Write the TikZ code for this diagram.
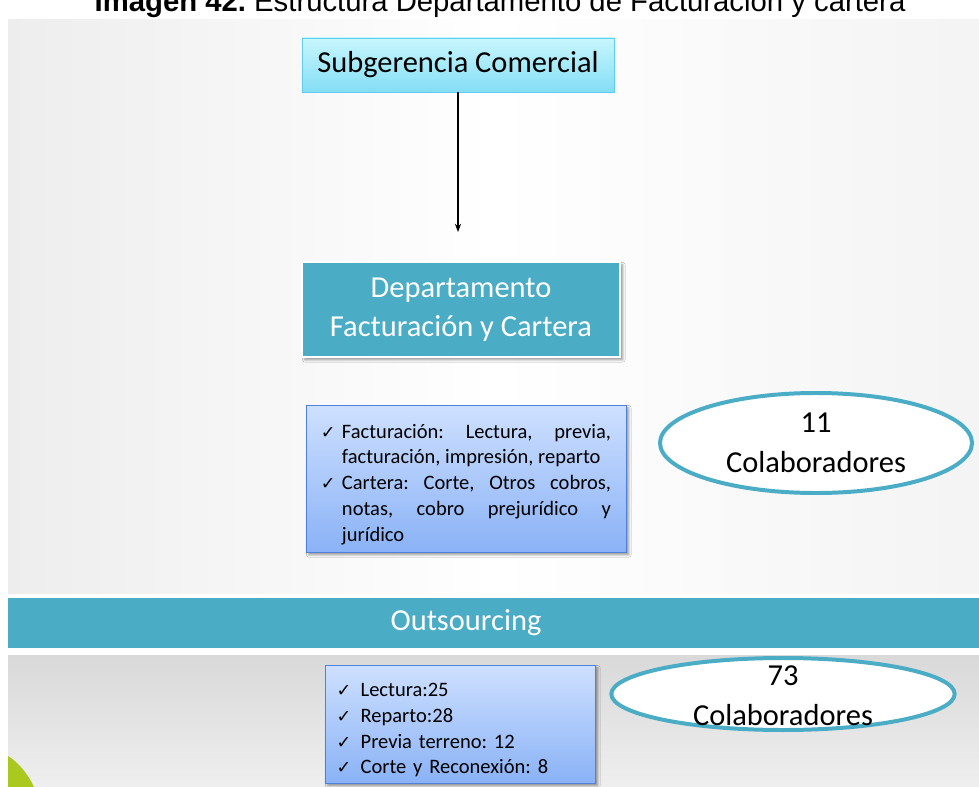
\documentclass[tikz,border=0pt]{standalone}
\usepackage{fontspec}
\setmainfont{Carlito}
\newfontfamily\titlefont{Liberation Sans}
\newfontfamily\symfont{DejaVu Sans}
\usepackage{xcolor}
\definecolor{accent}{RGB}{ 75, 172, 198}
\definecolor{skytop}{RGB}{200, 246, 253}
\definecolor{skybot}{RGB}{132, 222, 245}
\definecolor{skyline}{RGB}{ 95, 205, 235}
\definecolor{bluetop}{RGB}{206, 224, 255}
\definecolor{bluebot}{RGB}{138, 178, 246}
\definecolor{blueline}{RGB}{ 79, 129, 217}
\definecolor{lime}{RGB}{170, 200,  30}
\usepackage{tikz}
\usetikzlibrary{
  shapes.geometric, arrows.meta, positioning, shadows.blur
}
\frenchspacing
\newcommand{\tick}{{\symfont\fontsize{15}{15}\selectfont ✓}}
\newcommand{\tickitem}[2][0.63cm]{\par\hyphenpenalty=10000\hangindent=#1\hangafter=1\noindent\makebox[#1][l]{\tick}#2\par}
\tikzset{
  subbox/.style={draw=skyline, line width=0.8pt, top color=skytop, bottom color=skybot,
    minimum width=9.36cm, minimum height=1.62cm, font=\fontsize{26}{30}\selectfont},
  deptbox/.style={draw=white, line width=2.4pt, fill=accent, text=white,
    minimum width=9.54cm, minimum height=2.85cm, align=center,
    font=\fontsize{26}{33}\selectfont, blur shadow={shadow blur steps=6}},
  taskbox/.style={draw=blueline, line width=0.8pt, top color=bluetop, bottom color=bluebot,
    font=\fontsize{17.5}{22}\selectfont, blur shadow={shadow blur steps=6}},
  countell/.style={ellipse, draw=accent, line width=3.4pt, fill=white, inner sep=0pt},
  counttext/.style={align=center, font=\fontsize{26}{34}\selectfont},
  bandbar/.style={fill=accent, minimum width=29.13cm, minimum height=1.5cm},
  bandtext/.style={text=white, font=\fontsize{26}{30}\selectfont},
  flowarrow/.style={->, >=Stealth, line width=0.9pt, color=black}
}
\begin{document}
\begin{tikzpicture}[x=0.03cm, y=-0.03cm]
  \useasboundingbox (0,0) rectangle (979,787);

  \fill[left color=gray!14, right color=gray!9, middle color=white] (8,20) rectangle (979,593);
  \fill[top color=gray!30, bottom color=gray!13] (8,655) rectangle (979,787);
  \fill[lime] (8,756) .. controls (18,762) and (28,774) .. (34,787) -- (8,787) -- cycle;

  \node[anchor=base, font=\titlefont\fontsize{25}{28}\selectfont] (caption) at (500,12)
    {\textbf{Imagen 42.} Estructura Departamento de Facturación y cartera};

  \node[subbox] (subger) at (458,65) {Subgerencia Comercial};
  \coordinate (arrowtip) at (458,232);
  \node[deptbox] (depto) at (461,309.5) {Departamento\\Facturación y Cartera};

  \node[taskbox, minimum width=9.6cm, minimum height=4.41cm, text width=8.7cm,
    align=justify] (tareas) at (466,478.5)
    {\tickitem{Facturación: Lectura, previa, facturación, impresión, reparto}
     \tickitem{Cartera: Corte, Otros cobros, notas, cobro prejurídico y jurídico}
     \vspace{9pt}};

  \node[countell, minimum width=9.36cm, minimum height=3cm] (equipo) at (816,443) {};
  \node[counttext] (equipotxt) at (equipo.center) {11\\Colaboradores};

  \node[bandbar] (outsrc) at (493.5,623) {};
  \node[bandtext] (outsrctxt) at (466,623) {Outsourcing};

  \node[taskbox, minimum width=8.1cm, minimum height=3.54cm, text width=7.4cm,
    align=left] (tercero) at (460,724)
    {\tickitem[0.72cm]{Lectura:25}
     \tickitem[0.72cm]{Reparto:28}
     \tickitem[0.72cm]{Previa terreno: 12}
     \tickitem[0.72cm]{Corte y Reconexión: 8}};

  \node[countell, minimum width=10.3cm, minimum height=2.16cm] (contrato) at (783,694) {};
  \node[counttext] (contratotxt) at ([yshift=-0.06cm]contrato.center) {73\\Colaboradores};

  \draw[flowarrow] (subger.south) -- (arrowtip);

\end{tikzpicture}
\end{document}
